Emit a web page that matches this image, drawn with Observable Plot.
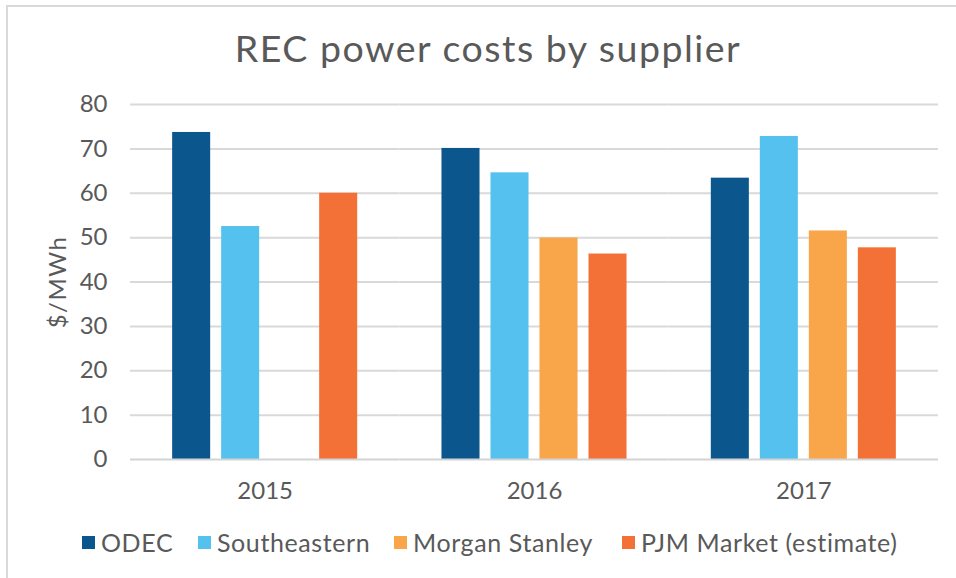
<!DOCTYPE html>
<html>
<head>
<meta charset="utf-8">
<script src="https://cdn.jsdelivr.net/npm/d3@7"></script>
<script src="https://cdn.jsdelivr.net/npm/@observablehq/plot@0.6"></script>
<style>
  html, body { margin: 0; padding: 0; width: 956px; height: 578px; overflow: hidden; background: #fff; }
  body { font-family: Lato, "Open Sans", sans-serif; color: #595959; position: relative; }
  #frame { position: absolute; left: 6px; top: 5px; width: 990px; height: 640px; border: 2px solid #d9d9d9; box-sizing: border-box; }
  #title { position: absolute; left: 20px; width: 936px; top: 29px; text-align: center; font-size: 37.5px; line-height: 1; white-space: nowrap; letter-spacing: 1.5px; }
  #chart { position: absolute; left: 0; top: 80px; }
  #legend { position: absolute; left: 0; top: 529.5px; width: 956px; height: 30px; font-size: 25px; line-height: 1; letter-spacing: 0.6px; }
  .item { position: absolute; top: 0; display: flex; align-items: center; white-space: nowrap; }
  .sw { width: 13px; height: 13px; margin-right: 6px; flex: none; }
</style>
</head>
<body>
<div id="frame"></div>
<div id="title">REC power costs by supplier</div>
<div id="chart"></div>
<div id="legend"></div>
<script>
const years = ["2015", "2016", "2017"];
const suppliers = ["ODEC", "Southeastern", "Morgan Stanley", "PJM Market (estimate)"];
const colors = ["#0b568c", "#55c1ef", "#f9a64b", "#f37036"];
const odec = [73.7, 70.1, 63.4];
const southeastern = [52.5, 64.6, 72.8];
const morganStanley = [null, 49.9, 51.5];
const pjmMarket = [60.0, 46.3, 47.7];
const yTicks = [0, 10, 20, 30, 40, 50, 60, 70, 80];

const series = [odec, southeastern, morganStanley, pjmMarket];
const table = [];
years.forEach((year, i) => {
  suppliers.forEach((supplier, j) => {
    const v = series[j][i];
    if (v != null) table.push({year, supplier, value: v});
  });
});

const chart = Plot.plot({
  width: 956,
  height: 430,
  marginLeft: 130,
  marginRight: 18,
  marginTop: 24,
  marginBottom: 51,
  style: {fontSize: "24px", fontFamily: "Lato, 'Open Sans', sans-serif", color: "#595959", background: "transparent", overflow: "visible"},
  facet: {data: table, x: "year"},
  fx: {domain: years, paddingInner: 0, paddingOuter: 0, round: false, axis: "bottom", label: null, tickSize: 0, tickPadding: 22},
  x: {domain: suppliers, paddingInner: 0.224, paddingOuter: 0.86, round: false, axis: null},
  y: {domain: [0, 80], ticks: yTicks, tickSize: 0, tickPadding: 23, label: "$/MWh", labelAnchor: "center", labelOffset: 82, labelArrow: "none"},
  color: {domain: suppliers, range: colors},
  marks: [
    Plot.ruleY(yTicks.filter(d => d > 0), {stroke: "#d9d9d9", strokeWidth: 2}),
    Plot.barY(table, {x: "supplier", y: "value", fill: "supplier"}),
    Plot.ruleY([0], {stroke: "#d3d3d3", strokeWidth: 2})
  ]
});
d3.select(chart).selectAll("text")
  .filter(function() { return this.textContent.trim() === "$/MWh"; })
  .style("letter-spacing", "1.5px");
document.getElementById("chart").appendChild(chart);

const legendLefts = [82, 198, 394, 622];
const legend = d3.select("#legend");
suppliers.forEach((s, i) => {
  const item = legend.append("div").attr("class", "item").style("left", legendLefts[i] + "px");
  item.append("div").attr("class", "sw").style("background", colors[i]);
  item.append("span").text(s);
});
</script>
</body>
</html>
